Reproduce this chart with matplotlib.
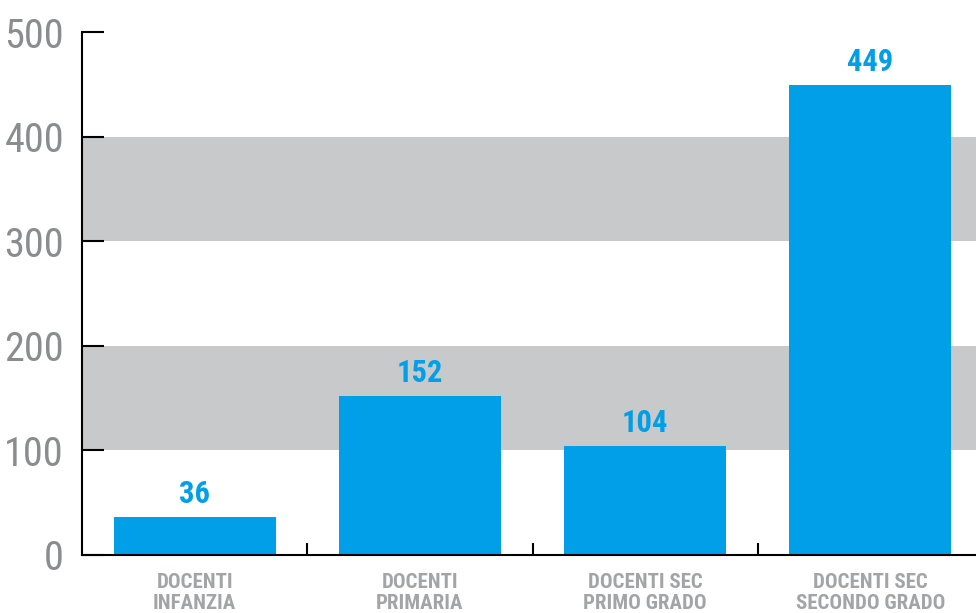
import matplotlib.pyplot as plt

# dati
categorie = ['DOCENTI\nINFANZIA', 'DOCENTI\nPRIMARIA', 'DOCENTI SEC\nPRIMO GRADO', 'DOCENTI SEC\nSECONDO GRADO']
valori = [36, 152, 104, 449]
fasce = [(100, 200), (300, 400)]
yticks = [0, 100, 200, 300, 400, 500]

plt.rcParams['font.family'] = ['Roboto Condensed', 'DejaVu Sans']

blu = '#009FE8'
grigio_fascia = '#C8C9CA'

fig = plt.figure(figsize=(9.76, 6.13), dpi=100)
ax = fig.add_axes([82 / 976, 1 - 555 / 613, (983 - 82) / 976, (555 - 32) / 613])

for lo, hi in fasce:
    ax.axhspan(lo, hi, color=grigio_fascia, zorder=0, lw=0)

x = list(range(len(valori)))
ax.bar(x, valori, width=0.72, color=blu, zorder=2)
for xi, v in zip(x, valori):
    ax.text(xi, v + 8, str(v), ha='center', va='bottom', color=blu,
            fontsize=22, fontweight='bold')

ax.set_xlim(-0.5, 3.5)
ax.set_ylim(0, 500)
ax.set_yticks(yticks)
ax.tick_params(axis='y', direction='in', length=16, width=1.5, labelsize=29,
               labelcolor='#8A8C8E', pad=13)
ax.set_xticks(x)
ax.set_xticklabels(categorie, fontweight='bold', color='#A3A4A6', fontsize=15,
                   linespacing=1.1)
ax.tick_params(axis='x', length=0, pad=13)
ax.set_xticks([0.5, 1.5, 2.5], minor=True)
ax.tick_params(axis='x', which='minor', direction='in', length=9, width=1.5)

for s in ['top', 'right']:
    ax.spines[s].set_visible(False)
for s in ['left', 'bottom']:
    ax.spines[s].set_linewidth(1.5)
    ax.spines[s].set_zorder(3)

fig.savefig('out.png', dpi=100)
